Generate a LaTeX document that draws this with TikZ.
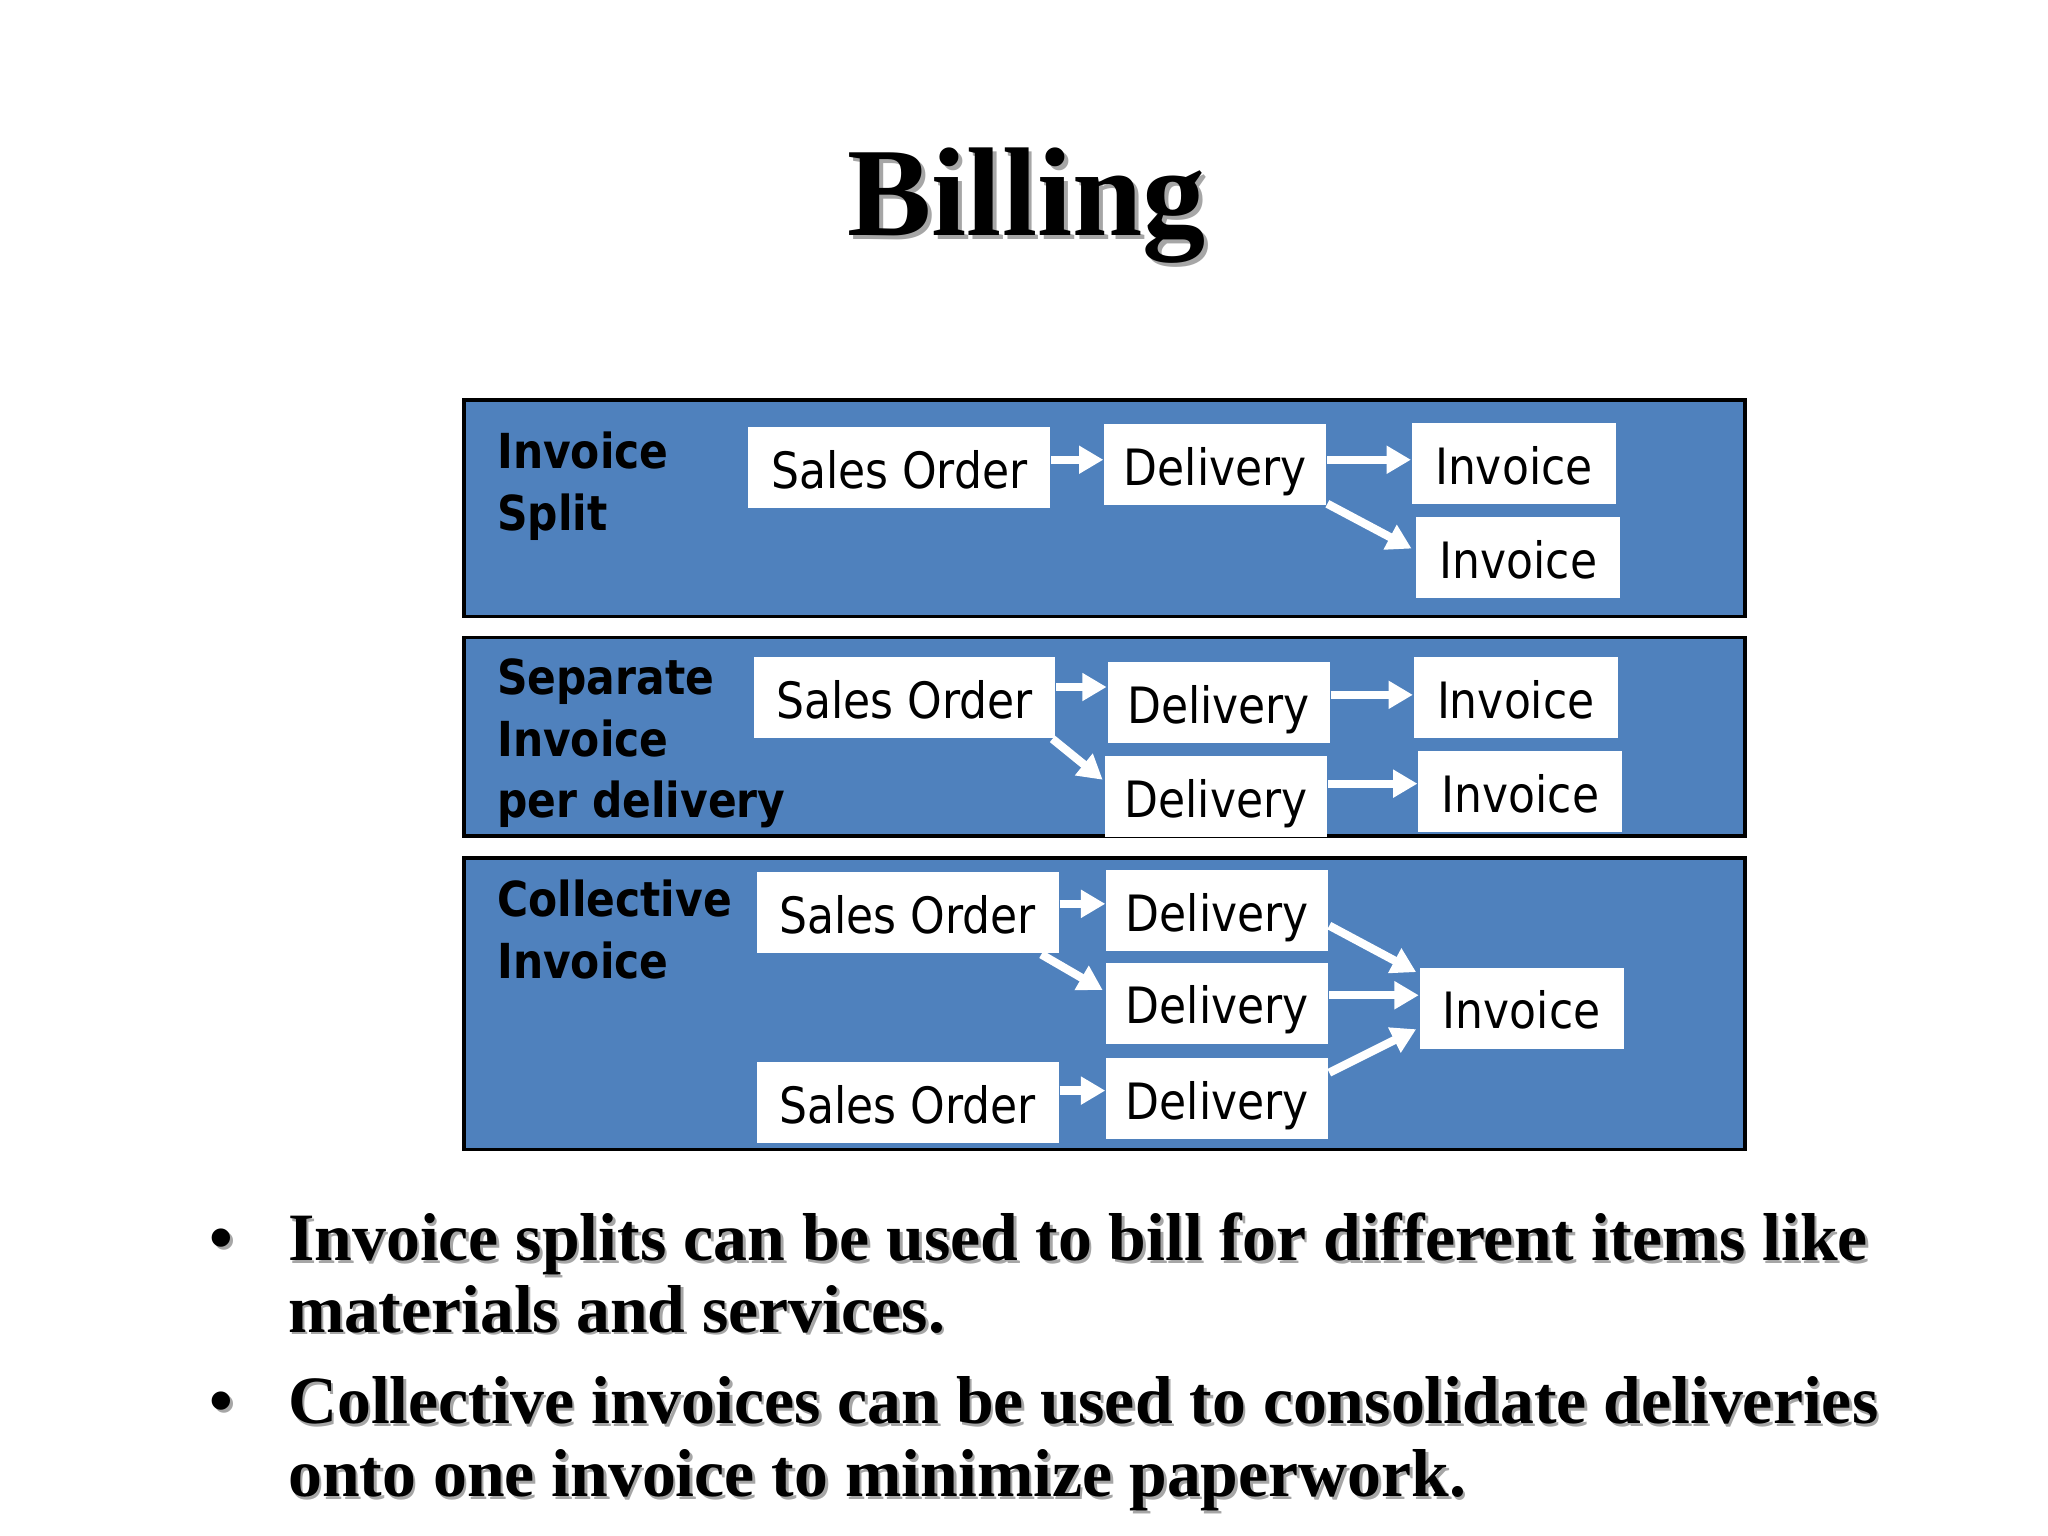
\documentclass[tikz,border=0pt]{standalone}
\usepackage{fontspec}
\setmainfont{Liberation Serif}
\newfontfamily\boxfont{DejaVu Sans}[FakeStretch=0.88]
\usetikzlibrary{arrows.meta,calc}
\definecolor{panelblue}{RGB}{79,129,189}
\begin{document}
\begin{tikzpicture}[x=0.01cm,y=-0.01cm,
  panel/.style={draw=black, line width=0.8pt, fill=panelblue},
  box/.style={fill=white, inner sep=0pt, minimum height=0.62cm, text height=9pt, text depth=0pt,
    font=\boxfont\fontsize{10.9}{13}\selectfont},
  sobox/.style={box, minimum width=2.31cm},
  delbox/.style={box, minimum width=1.70cm},
  invbox/.style={box, minimum width=1.56cm},
  lbl/.style={anchor=base west, inner sep=0pt, font=\boxfont\bfseries\fontsize{10.5}{13}\selectfont},
  arr/.style={draw=white, line width=1.8pt, -{Triangle[length=5.3pt,width=5.8pt]}},
  titlefont/.style={font=\bfseries\fontsize{27.5}{33}\selectfont},
  bulletfont/.style={anchor=base west, inner sep=0pt, font=\bfseries\fontsize{14.75}{18}\selectfont},
  shadow/.style={text=black!35}
]
\useasboundingbox[fill=white] (0,0) rectangle (1568,1176);

% title
\node[titlefont, shadow, anchor=base] (titleshadow) at (789,183) {Billing};
\node[titlefont, anchor=base] (title) at (786,180) {Billing};

% panels
\draw[panel] (355,306) rectangle (1336,472);
\draw[panel] (355,488) rectangle (1336,640);
\draw[panel] (355,657) rectangle (1336,880);

% panel 1
\node[lbl] (l1a) at (380,359) {Invoice};
\node[lbl] (l1b) at (380,406) {Split};
\node[sobox] (so1) at (688.5,358) {Sales Order};
\node[delbox] (d1) at (930.5,356) {Delivery};
\node[invbox] (i1a) at (1159,355) {Invoice};
\node[invbox] (i1b) at (1162.5,427) {Invoice};
\draw[arr] ($(so1.east)+(0,-6)$) -- ($(so1.east -| d1.west)+(0,-6)$);
\draw[arr] ($(d1.east)+(0,-4)$) -- ($(d1.east -| i1a.west)+(0,-4)$);
\draw[arr] ($(d1.south east)+(0,-2)$) -- ($(i1b.west)+(-3,-7)$);

% panel 2
\node[lbl] (l2a) at (380,532) {Separate};
\node[lbl] (l2b) at (380,579) {Invoice};
\node[lbl] (l2c) at (380,626) {per delivery};
\node[sobox] (so2) at (692.5,534) {Sales Order};
\node[delbox] (d2a) at (933,538) {Delivery};
\node[delbox] (d2b) at (931,610) {Delivery};
\node[invbox] (i2a) at (1160.5,534) {Invoice};
\node[invbox] (i2b) at (1164,606) {Invoice};
\draw[arr] ($(so2.east)+(0,-8)$) -- ($(so2.east -| d2a.west)+(0,-8)$);
\draw[arr] ($(so2.south east)+(-3,0)$) -- ($(d2b.west)+(-1,-13)$);
\draw[arr] ($(d2a.east)+(0,-6)$) -- ($(d2a.east -| i2a.west)+(0,-6)$);
\draw[arr] ($(d2b.east)+(0,-10)$) -- ($(d2b.east -| i2b.west)+(0,-10)$);

% panel 3
\node[lbl] (l3a) at (380,702) {Collective};
\node[lbl] (l3b) at (380,749) {Invoice};
\node[sobox] (so3a) at (695,699) {Sales Order};
\node[delbox] (d3a) at (932,697) {Delivery};
\node[delbox] (d3b) at (932,768) {Delivery};
\node[sobox] (so3b) at (695,844) {Sales Order};
\node[delbox] (d3c) at (932,841) {Delivery};
\node[invbox] (i3) at (1165,772) {Invoice};
\draw[arr] ($(so3a.east)+(0,-7)$) -- ($(so3a.east -| d3a.west)+(0,-7)$);
\draw[arr] ($(so3a.south east)+(-14,0)$) -- ($(d3b.west)+(-2,-10)$);
\draw[arr] ($(d3a.south east)+(0,-20)$) -- ($(i3.north west)+(-2,4)$);
\draw[arr] ($(d3b.east)+(0,-6)$) -- ($(d3b.east -| i3.west)+(0,-6)$);
\draw[arr] ($(d3c.north east)+(0,12)$) -- ($(i3.west)+(-2,16)$);
\draw[arr] ($(so3b.east)+(0,-9)$) -- ($(so3b.east -| d3c.west)+(0,-9)$);

% bullets (shadows first)
\node[bulletfont, shadow] (b1s) at (162,967) {•};
\node[bulletfont, shadow] (t1s) at (222,967) {Invoice splits can be used to bill for different items like};
\node[bulletfont, shadow] (t2s) at (222,1022) {materials and services.};
\node[bulletfont, shadow] (b2s) at (162,1092) {•};
\node[bulletfont, shadow] (t3s) at (222,1092) {Collective invoices can be used to consolidate deliveries};
\node[bulletfont, shadow] (t4s) at (222,1148) {onto one invoice to minimize paperwork.};

\node[bulletfont] (b1) at (160,965) {•};
\node[bulletfont] (t1) at (220,965) {Invoice splits can be used to bill for different items like};
\node[bulletfont] (t2) at (220,1020) {materials and services.};
\node[bulletfont] (b2) at (160,1090) {•};
\node[bulletfont] (t3) at (220,1090) {Collective invoices can be used to consolidate deliveries};
\node[bulletfont] (t4) at (220,1146) {onto one invoice to minimize paperwork.};
\end{tikzpicture}
\end{document}
